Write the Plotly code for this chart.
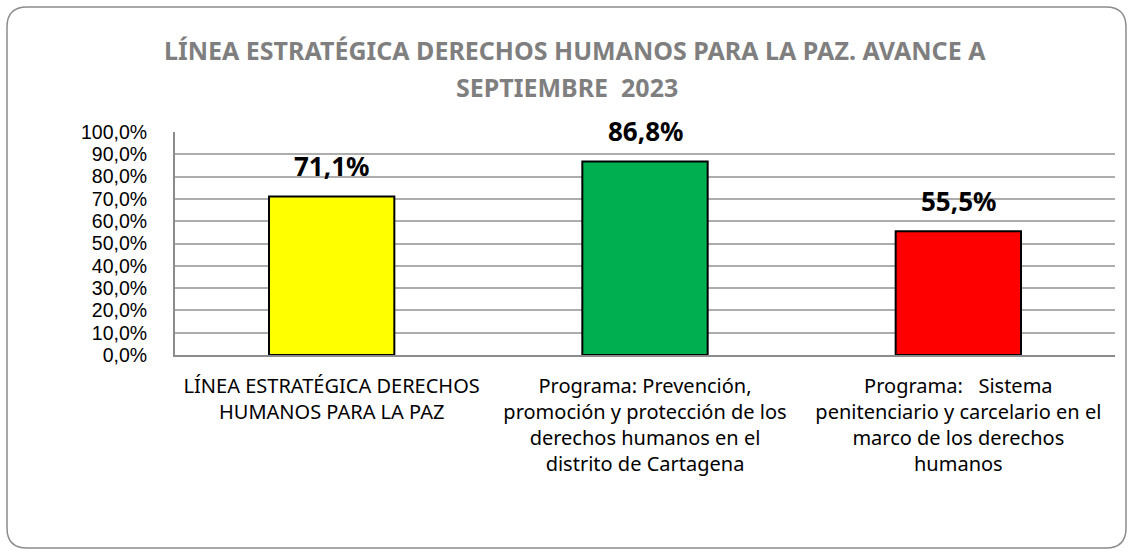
import plotly.graph_objects as go

title_lines = ["LÍNEA ESTRATÉGICA DERECHOS HUMANOS PARA LA PAZ. AVANCE A", "SEPTIEMBRE  2023"]
categories = [
    "LÍNEA ESTRATÉGICA DERECHOS<br>HUMANOS PARA LA PAZ",
    "Programa: Prevención,<br>promoción y protección de los<br>derechos humanos en el<br>distrito de Cartagena",
    "Programa: \u00a0 Sistema<br>penitenciario y carcelario en el<br>marco de los derechos<br>humanos",
]
values = [0.711, 0.868, 0.555]
colors = ["#FFFF00", "#00B050", "#FF0000"]
tick_vals = [i / 10 for i in range(11)]

W, H = 1133, 556
ml, mr, mt, mb = 175, 18, 132, 201
pw, ph = W - ml - mr, H - mt - mb

FONT = "Noto Sans"

def px_to_paper(x, y):
    return (x - ml) / pw, 1 - (y - mt) / ph

fig = go.Figure()
fig.add_trace(go.Bar(
    x=categories, y=values,
    marker=dict(color=colors, line=dict(color="black", width=2)),
    width=0.40,
    hoverinfo="skip",
))

for c, v in zip(categories, values):
    fig.add_annotation(
        x=c, y=v, text="<b>%s</b>" % (f"{v*100:.1f}%".replace(".", ",")),
        showarrow=False, yanchor="bottom", yshift=10,
        font=dict(family=FONT, size=26, color="black"),
    )

# title as two centred lines
for line, (cx, cy) in zip(title_lines, [(575, 50), (567, 87)]):
    ax, ay = px_to_paper(cx, cy)
    fig.add_annotation(
        x=ax, y=ay, xref="paper", yref="paper", xanchor="center", yanchor="middle",
        text="<b>%s</b>" % line.replace("  ", " \u00a0"), showarrow=False,
        font=dict(family=FONT, size=25, color="#7F7F7F"),
    )

# outer rounded border
x0, y0, x1, y1, r = 7, 7, 1126, 548, 20
def P(x, y):
    a, b = px_to_paper(x, y)
    return f"{a:.5f},{b:.5f}"
path = (f"M {P(x0 + r, y0)} L {P(x1 - r, y0)} Q {P(x1, y0)} {P(x1, y0 + r)} "
        f"L {P(x1, y1 - r)} Q {P(x1, y1)} {P(x1 - r, y1)} "
        f"L {P(x0 + r, y1)} Q {P(x0, y1)} {P(x0, y1 - r)} "
        f"L {P(x0, y0 + r)} Q {P(x0, y0)} {P(x0 + r, y0)} Z")
fig.add_shape(type="path", path=path, xref="paper", yref="paper",
              line=dict(color="#8c8c8c", width=1.5), layer="below")

fig.update_layout(
    width=W, height=H,
    margin=dict(l=ml, r=mr, t=mt, b=mb),
    paper_bgcolor="white", plot_bgcolor="white",
    separators=",.",
    showlegend=False,
    font=dict(family=FONT, color="black"),
    bargap=0.6,
)
fig.update_yaxes(
    range=[0, 1], tickvals=tick_vals, tickformat=".1%",
    showgrid=True, gridcolor="#ADADAD", gridwidth=1.5,
    showline=True, linecolor="#8c8c8c", linewidth=2,
    tickfont=dict(family="Liberation Sans", size=19.5, color="black"),
    ticklabelstandoff=22,
    ticks="", zeroline=False, fixedrange=True,
)
fig.update_xaxes(
    showline=True, linecolor="#8c8c8c", linewidth=2,
    tickfont=dict(family=FONT, size=20, color="black"),
    ticklabelstandoff=12,
    ticks="", fixedrange=True,
)

fig.write_html("out.html", config={"displayModeBar": False},
               post_script="document.body.style.margin='0';document.body.style.overflow='hidden';")
